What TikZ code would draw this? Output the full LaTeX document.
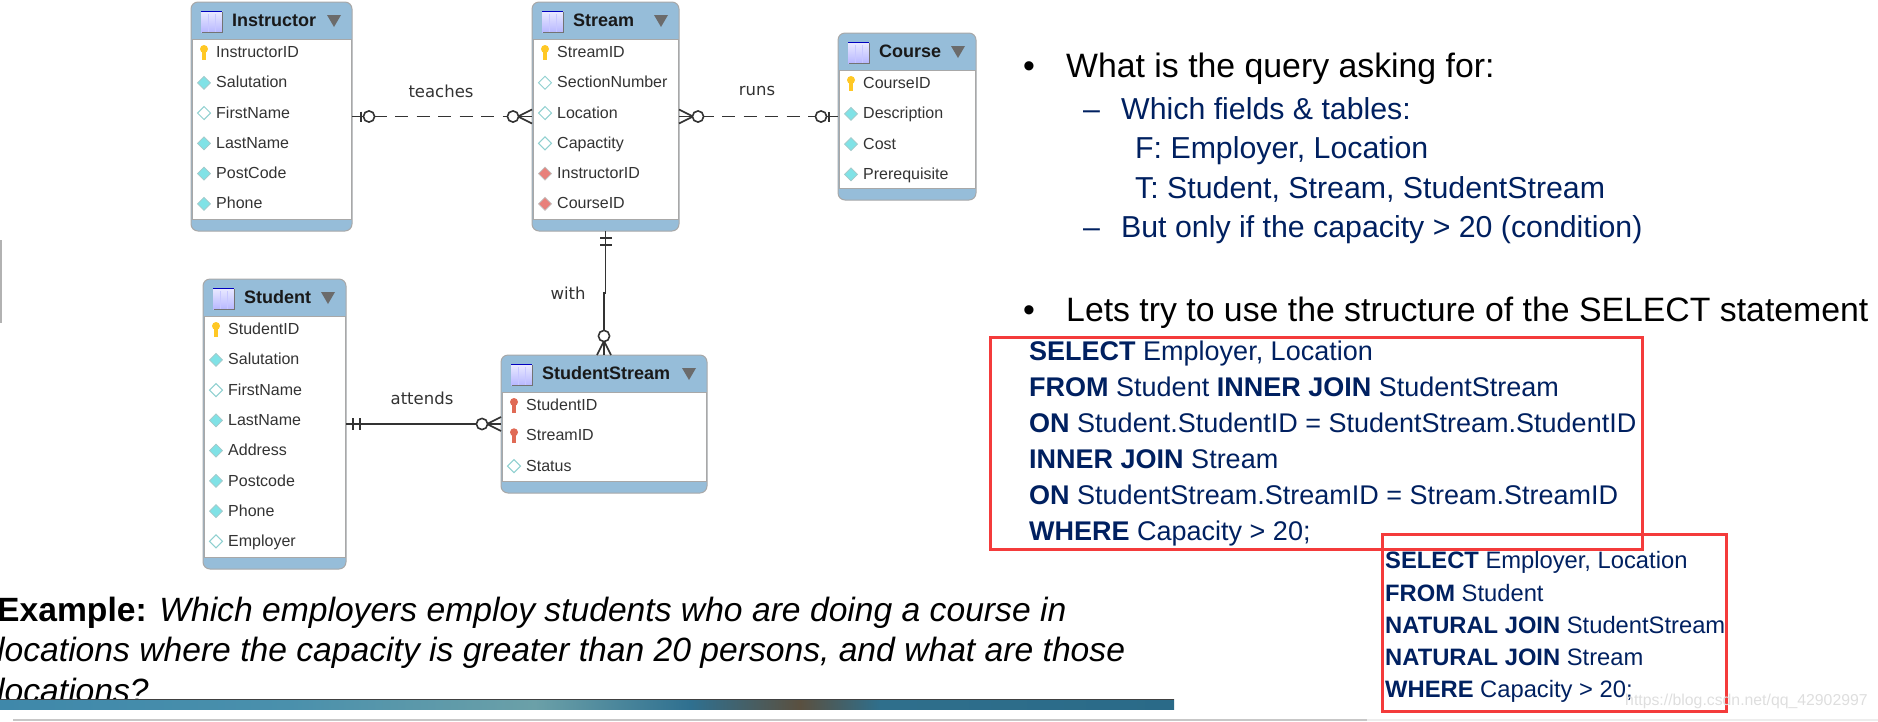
\documentclass[tikz,border=0pt]{standalone}
\usepackage{fontspec}
\usepackage{xcolor}
\setmainfont{Liberation Sans}
\newfontfamily\erlabel{DejaVu Sans}
\usetikzlibrary{positioning,calc}
\definecolor{erblue}{HTML}{96BDD9}
\definecolor{erframe}{HTML}{A8A8A8}
\definecolor{erink}{HTML}{333333}
\definecolor{navy}{HTML}{002060}
\definecolor{redline}{HTML}{F43B3B}
\definecolor{keygold}{HTML}{FFC825}
\definecolor{keyred}{HTML}{E06A55}
\definecolor{attcyan}{HTML}{80E2E6}
\definecolor{attedge}{HTML}{A5C8C8}
\definecolor{optedge}{HTML}{8FD0D0}
\definecolor{fkfill}{HTML}{E8807A}

\newcommand{\fsz}[2]{\fontsize{#1}{#2}\selectfont}

% name, left, top, width, height, title, rows
\newcommand{\ertable}[7]{%
  \node[tblbox, minimum width=#4pt, minimum height=#5pt] (#1) at (#2,#3) {};
  \node[tblbody, minimum width={(#4-2)*1pt}, minimum height={(#5-49.5)*1pt}]
    (#1-body) at ($(#1.north)+(0,37.5)$) {};
  \pic at ($(#1.north west)+(10,9)$) {tblicon};
  \node[tblname] (#1-name) at ($(#1.north west)+(41,22)$) {#6};
  \fill[black!58] ($(#1.north east)+(-25,13)$) -- ++(14,0) -- ++(-7,12) -- cycle;
  \foreach \kind/\txt [count=\n from 0] in {#7} {
    \pic at ($(#1.north west)+(13,50.5+30.27*\n)$) {\kind};
    \node[tblrow] (#1-\n) at ($(#1.north west)+(25,53+30.27*\n)$) {\txt};
  }
}

\tikzset{
  pics/tblicon/.style = {code={
    \shade[top color=blue!8, bottom color=blue!28] (0,0) rectangle (21,21);
    \foreach \sx in {7,14} \draw[blue!22, line width=.8pt] (\sx,3) -- (\sx,21);
    \draw[blue!75!black, line width=1.2pt] (0,.6) -- (21,.6);
    \draw[black!55, line width=1pt] (21,1) -- (21,21) -- (1,21);
  }},
  pics/pk/.style = {code={
    \fill[keygold] (0,-3.5) circle (4);
    \fill[keygold] (-1.6,-3) rectangle (1.6,7);
  }},
  pics/fk/.style = {code={
    \fill[keyred] (0,-3.5) circle (4);
    \fill[keyred] (-1.6,-3) rectangle (1.6,7);
  }},
  pics/att/.style = {code={
    \draw[attedge, fill=attcyan, line width=.7pt] (-6.5,0) -- (0,-6.5) -- (6.5,0) -- (0,6.5) -- cycle;
  }},
  pics/opt/.style = {code={
    \draw[optedge, fill=white, line width=1pt] (-6.5,0) -- (0,-6.5) -- (6.5,0) -- (0,6.5) -- cycle;
  }},
  pics/fd/.style = {code={
    \draw[gray!50, fill=fkfill, line width=.7pt] (-6.5,0) -- (0,-6.5) -- (6.5,0) -- (0,6.5) -- cycle;
  }},
  pics/manyend/.style = {code={
    \draw[relbase] (0,-7) -- (14,0) -- (0,7);
    \draw[relbase] (0,0) -- (14,0);
    \draw[relbase, fill=white] (19,0) circle (5.6);
  }},
  pics/zeroend/.style = {code={
    \draw[relbase] (0,0) -- (12,0);
    \draw[relbase] (9,-5) -- (9,5);
    \draw[relbase, fill=white] (17,0) circle (5.6);
  }},
  pics/oneend/.style = {code={
    \draw[relbase] (7,-6) -- (7,6);
    \draw[relbase] (14,-6) -- (14,6);
  }}
}

\begin{document}
\begin{tikzpicture}[
  x=1pt, y=-1pt,
  tblbox/.style  = {draw=erframe, line width=1pt, fill=erblue, rounded corners=7pt,
                    anchor=north west, inner sep=0pt, outer sep=0pt},
  tblbody/.style = {draw=erframe, line width=.8pt, fill=white, anchor=north,
                    inner sep=0pt, outer sep=0pt},
  tblname/.style = {font=\fsz{18}{20}\bfseries, text=black!90, anchor=mid west, inner sep=0pt},
  tblrow/.style  = {font=\fsz{16}{18}, text=erink, anchor=mid west, inner sep=0pt},
  relbase/.style = {draw=erink, line width=1.6pt},
  rel/.style     = {relbase},
  reldash/.style = {relbase, dash pattern=on 13pt off 8.5pt},
  rellabel/.style = {font=\erlabel\fsz{16.5}{18}, text=erink, inner sep=0pt},
  qmain/.style   = {font=\fsz{33.8}{36}, text=black, anchor=mid west, inner sep=0pt},
  qsub/.style    = {font=\fsz{30.3}{32}, text=navy, anchor=mid west, inner sep=0pt},
  sqltext/.style = {text=navy, align=left, anchor=north west, inner sep=0pt},
  redbox/.style  = {draw=redline, line width=3pt, anchor=north west, inner sep=0pt, outer sep=0pt}
]
\useasboundingbox (0,0) rectangle (1878,721);

% ---------- edge of the slide on the left ----------------------------------
\fill[black!30] (0,240) rectangle (1.5,323);

% ---------- tables ---------------------------------------------------------
\ertable{instructor}{191}{2}{161}{229}{Instructor}{pk/InstructorID, att/Salutation, opt/FirstName,
  att/LastName, att/PostCode, att/Phone}
\ertable{stream}{532}{2}{147}{229}{Stream}{pk/StreamID, opt/SectionNumber, opt/Location,
  opt/Capactity, fd/InstructorID, fd/CourseID}
\ertable{course}{838}{33}{138}{167}{Course}{pk/CourseID, att/Description, att/Cost, att/Prerequisite}
\ertable{student}{203}{279}{143}{290}{Student}{pk/StudentID, att/Salutation, opt/FirstName,
  att/LastName, att/Address, att/Postcode, att/Phone, opt/Employer}
\ertable{ss}{501}{355}{206}{138}{StudentStream}{fk/StudentID, fk/StreamID, opt/Status}

% ---------- relationships --------------------------------------------------
\draw[reldash] (instructor.east) -- (stream.west);
\draw[reldash] (stream.east) -- (course.west);
\draw[rel] (stream.south) -- ++(0,62) -| (ss.north);
\draw[rel] (student.east) -- (ss.west);

\pic at (instructor.east) {zeroend};
\pic[rotate=180] at (stream.west) {manyend};
\pic at (stream.east) {manyend};
\pic[rotate=180] at (course.west) {zeroend};
\pic[rotate=-90] at (stream.south) {oneend};
\pic[rotate=90] at (ss.north) {manyend};
\pic at (student.east) {oneend};
\pic[rotate=180] at (ss.west) {manyend};

\node[rellabel] (teaches) at (441,91) {teaches};
\node[rellabel] (runs) at (757,91) {runs};
\node[rellabel] (with) at (568,293) {with};
\node[rellabel] (attends) at (422,398) {attends};

% ---------- question -------------------------------------------------------
\node[qmain] (qa) at (1023,75) {\makebox[43pt][l]{•}What is the query asking for:};
\node[qsub, below=42pt of qa.mid west, anchor=mid west, xshift=60pt] (qb)
  {\makebox[38pt][l]{–}Which fields \& tables:};
\node[qsub, below=39pt of qb.mid west, anchor=mid west, xshift=52pt] (qf) {F: Employer, Location};
\node[qsub, below=40pt of qf.mid west, anchor=mid west] (qt) {T: Student, Stream, StudentStream};
\node[qsub, below=39pt of qt.mid west, anchor=mid west, xshift=-52pt] (qc)
  {\makebox[38pt][l]{–}But only if the capacity > 20 (condition)};
\node[qmain, below=84pt of qc.mid west, anchor=mid west, xshift=-60pt] (qd)
  {\makebox[43pt][l]{•}Lets try to use the structure of the SELECT statement};

% ---------- the two queries ------------------------------------------------
\node[redbox, minimum width=652pt, minimum height=212pt] (boxa) at (990,337) {};
\node[redbox, minimum width=344pt, minimum height=177pt] (boxb) at (1382,534) {};

\node[sqltext, font=\fsz{27}{35.9}] (sqla) at (1029,341) {%
  \textbf{SELECT} Employer, Location\\
  \textbf{FROM} Student \textbf{INNER JOIN} StudentStream\\
  \textbf{ON} Student.StudentID = StudentStream.StudentID\\
  \textbf{INNER JOIN} Stream\\
  \textbf{ON} StudentStream.StreamID = Stream.StreamID\\
  \textbf{WHERE} Capacity > 20;};

\node[sqltext, font=\fsz{23.75}{32.1}] (sqlb) at (1385,551.5) {%
  \textbf{SELECT} Employer, Location\\
  \textbf{FROM} Student\\
  \textbf{NATURAL JOIN} StudentStream\\
  \textbf{NATURAL JOIN} Stream\\
  \textbf{WHERE} Capacity > 20;};

\node[font=\fsz{15.8}{18}, text=black!13, anchor=mid west, inner sep=0pt] (mark) at (1625,703)
  {https://blog.csdn.net/qq\_42902997};

% ---------- example below the tables ---------------------------------------
\node[anchor=north west, align=left, inner sep=0pt, font=\fsz{33.65}{40.5}, text=black] (example) at (-3,596.5) {%
  \textbf{Example:} \textit{Which employers employ students who are doing a course in}\\
  \textit{locations where the capacity is greater than 20 persons, and what are those}\\
  \textit{locations?}};

% ---------- picture strip and bottom edge ----------------------------------
\fill[white] (0,699) rectangle (1200,719);
\foreach \xa/\xb/\ca/\cb in {0/290/3F88AA/4A90AC, 290/535/4A90AC/6BA0A8, 535/690/6BA0A8/2F7090,
  690/800/2F7090/5A5040, 800/880/5A5040/2F6F8C, 880/1174/2F6F8C/2A6A88} {
  \definecolor{ca}{HTML}{\ca}\definecolor{cb}{HTML}{\cb}
  \shade[left color=ca, right color=cb] (\xa,699) rectangle (\xb,709);
}
\draw[black!75, line width=1pt] (0,699) -- (1174,699);
\fill[black!22] (13,719) rectangle (1367,721);
\fill[black!7] (1367,719) rectangle (1878,721);

\end{tikzpicture}
\end{document}
